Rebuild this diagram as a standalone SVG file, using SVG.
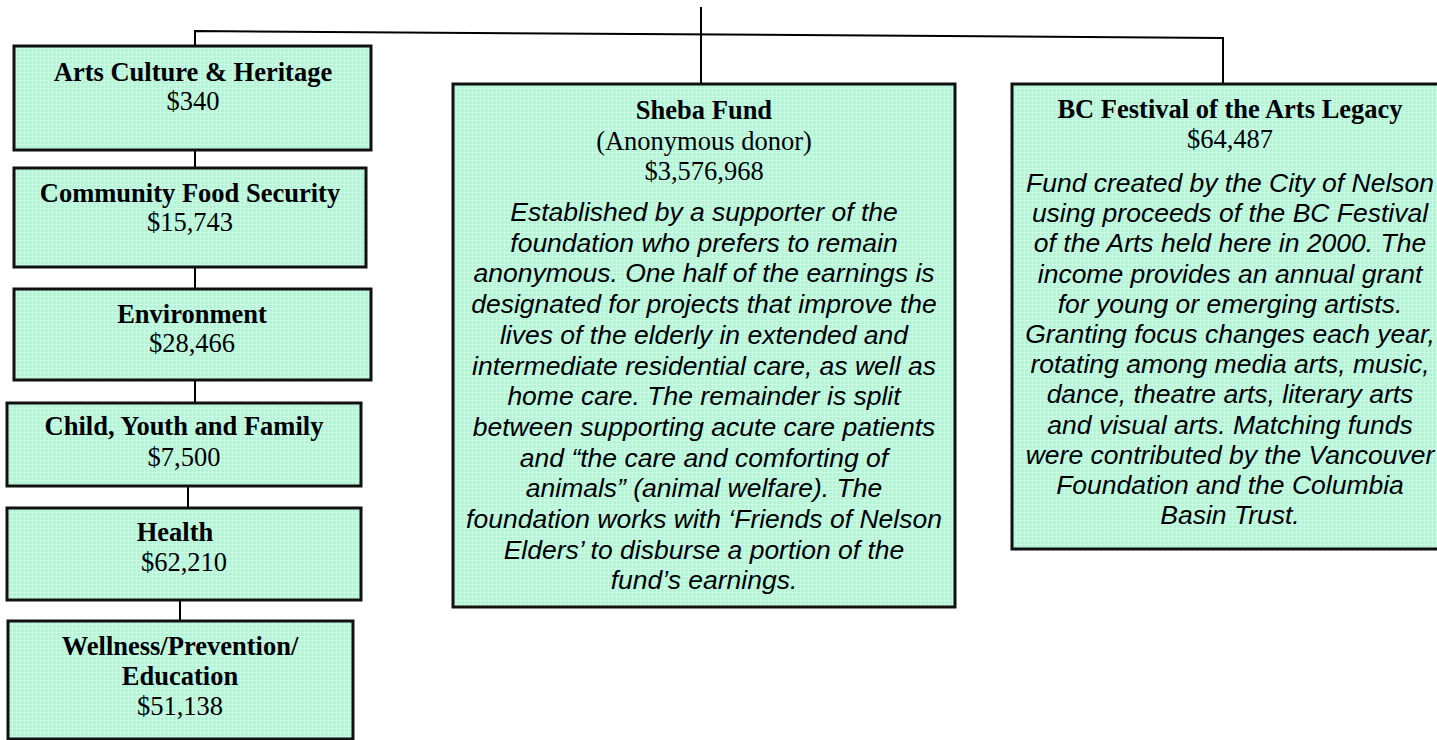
<svg xmlns="http://www.w3.org/2000/svg" width="1437" height="740" viewBox="0 0 1437 740">
<defs>
<pattern id="grid" width="4" height="4" patternUnits="userSpaceOnUse">
<rect width="4" height="4" fill="#b2f5d4"/>
<path d="M0 0.5H4M0.5 0V4" stroke="#c9fbe4" stroke-width="1"/>
</pattern>
</defs>
<style>
.box{fill:url(#grid);stroke:#111;stroke-width:3}
.h{font-family:"Liberation Serif","Times New Roman",serif;font-weight:bold;font-size:26.5px;fill:#000;text-anchor:middle}
.v{font-family:"Liberation Serif","Times New Roman",serif;font-size:26.5px;fill:#000;text-anchor:middle}
.b{font-family:"Liberation Sans",Arial,sans-serif;font-style:italic;font-size:26.5px;fill:#000;text-anchor:middle}
.c{fill:none;stroke:#000;stroke-width:2}
</style>
<rect width="1437" height="740" fill="#fff"/>
<g id="connectors">
<line class="c" x1="701" y1="7" x2="701" y2="84"/>
<polyline class="c" points="195,46 195,31 1223,38 1223,84"/>
<line class="c" x1="195" y1="150" x2="195" y2="168"/>
<line class="c" x1="195" y1="267" x2="195" y2="289"/>
<line class="c" x1="195" y1="380" x2="195" y2="403"/>
<line class="c" x1="188" y1="486" x2="188" y2="508"/>
<line class="c" x1="180" y1="600" x2="180" y2="621"/>
</g>
<g id="arts">
<rect class="box" x="14" y="46" width="357" height="104"/>
<text class="h" x="193" y="81">Arts Culture &amp; Heritage</text>
<text class="v" x="193" y="110">$340</text>
</g>
<g id="food">
<rect class="box" x="14" y="168" width="352" height="99"/>
<text class="h" x="190" y="202">Community Food Security</text>
<text class="v" x="190" y="231">$15,743</text>
</g>
<g id="environment">
<rect class="box" x="14" y="289" width="357" height="91"/>
<text class="h" x="192" y="323">Environment</text>
<text class="v" x="192" y="352">$28,466</text>
</g>
<g id="child">
<rect class="box" x="7" y="403" width="354" height="83"/>
<text class="h" x="184" y="435">Child, Youth and Family</text>
<text class="v" x="184" y="466">$7,500</text>
</g>
<g id="health">
<rect class="box" x="7" y="508" width="354" height="92"/>
<text class="h" x="175" y="541">Health</text>
<text class="v" x="184" y="571">$62,210</text>
</g>
<g id="wellness">
<rect class="box" x="8" y="621" width="345" height="118"/>
<text class="h" x="180" y="655">Wellness/Prevention/</text>
<text class="h" x="180" y="685">Education</text>
<text class="v" x="180" y="715">$51,138</text>
</g>
<g id="sheba">
<rect class="box" x="453" y="84" width="502" height="523"/>
<text class="h" x="704" y="119">Sheba Fund</text>
<text class="v" x="704" y="150">(Anonymous donor)</text>
<text class="v" x="704" y="180">$3,576,968</text>
<text class="b" x="704" y="221">Established by a supporter of the</text>
<text class="b" x="704" y="251.7">foundation who prefers to remain</text>
<text class="b" x="704" y="282.4">anonymous. One half of the earnings is</text>
<text class="b" x="704" y="313.1">designated for projects that improve the</text>
<text class="b" x="704" y="343.8">lives of the elderly in extended and</text>
<text class="b" x="704" y="374.5">intermediate residential care, as well as</text>
<text class="b" x="704" y="405.2">home care. The remainder is split</text>
<text class="b" x="704" y="435.9">between supporting acute care patients</text>
<text class="b" x="704" y="466.6">and “the care and comforting of</text>
<text class="b" x="704" y="497.3">animals” (animal welfare). The</text>
<text class="b" x="704" y="528">foundation works with ‘Friends of Nelson</text>
<text class="b" x="704" y="558.7">Elders’ to disburse a portion of the</text>
<text class="b" x="704" y="589.4">fund’s earnings.</text>
</g>
<g id="bcfestival">
<rect class="box" x="1012" y="84" width="438" height="465"/>
<text class="h" x="1230" y="118">BC Festival of the Arts Legacy</text>
<text class="v" x="1230" y="148">$64,487</text>
<text class="b" x="1230" y="192">Fund created by the City of Nelson</text>
<text class="b" x="1230" y="222.2">using proceeds of the BC Festival</text>
<text class="b" x="1230" y="252.4">of the Arts held here in 2000. The</text>
<text class="b" x="1230" y="282.6">income provides an annual grant</text>
<text class="b" x="1230" y="312.8">for young or emerging artists.</text>
<text class="b" x="1230" y="343">Granting focus changes each year,</text>
<text class="b" x="1230" y="373.2">rotating among media arts, music,</text>
<text class="b" x="1230" y="403.4">dance, theatre arts, literary arts</text>
<text class="b" x="1230" y="433.6">and visual arts. Matching funds</text>
<text class="b" x="1230" y="463.8">were contributed by the Vancouver</text>
<text class="b" x="1230" y="494">Foundation and the Columbia</text>
<text class="b" x="1230" y="524.2">Basin Trust.</text>
</g>
</svg>
